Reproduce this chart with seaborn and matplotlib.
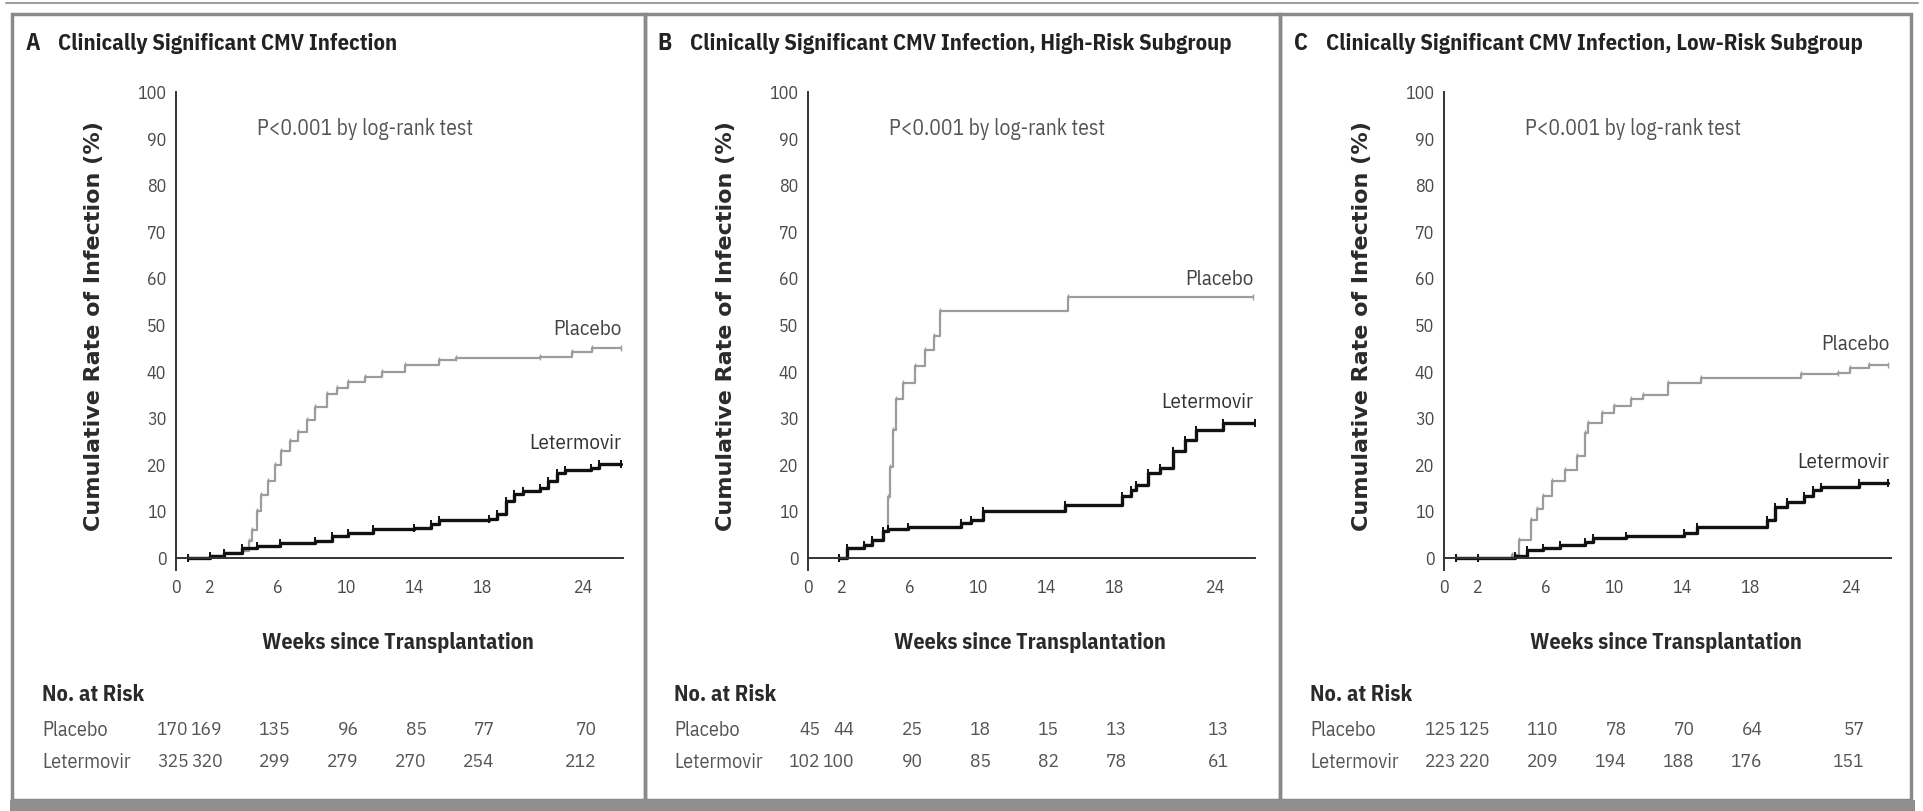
import matplotlib
matplotlib.use("Agg")
import matplotlib.pyplot as plt
from matplotlib.lines import Line2D
from matplotlib.patches import Rectangle
import matplotlib.transforms as mtransforms
import seaborn as sns
import pandas as pd

sns.set_theme(style="white")
plt.rcParams["font.family"] = ["IBM Plex Sans Condensed", "DejaVu Sans"]

# ---- Kaplan-Meier step data (week, cumulative %) ----
a_placebo_weeks = [0.7, 2.0, 2.8, 3.9, 4.3, 4.5, 4.75, 5.0, 5.4, 5.8, 6.2, 6.7, 7.2, 7.7, 8.2, 8.9,
                   9.5, 10.1, 11.1, 12.1, 13.5, 15.5, 16.5, 21.4, 23.3, 24.5, 26.2]
a_placebo_rate = [0, 0.5, 1.0, 1.5, 3.6, 6.0, 10.0, 13.5, 16.5, 20.0, 23.0, 25.0, 27.0, 29.5, 32.3, 35.2,
                  36.5, 37.7, 38.8, 39.9, 41.3, 42.4, 42.9, 43.1, 44.2, 45.0, 45.0]
a_leter_weeks = [0.7, 2.0, 2.8, 3.9, 4.75, 6.1, 8.2, 9.2, 10.1, 11.6, 14.0, 15.0, 15.5, 18.4, 18.9,
                 19.4, 19.9, 20.4, 21.4, 21.9, 22.4, 22.9, 24.4, 24.9, 26.2]
a_leter_rate = [0, 0.5, 1.1, 2.2, 2.6, 3.3, 3.7, 4.7, 5.4, 6.2, 6.4, 7.2, 8.1, 8.3, 9.4,
                12.3, 13.7, 14.4, 15.1, 16.6, 18.3, 18.9, 19.4, 20.2, 20.2]

b_placebo_weeks = [1.8, 2.3, 3.3, 3.75, 4.4, 4.7, 4.85, 5.0, 5.2, 5.6, 6.3, 6.9, 7.4, 7.75, 15.3, 26.2]
b_placebo_rate = [0, 2.1, 2.8, 3.9, 5.7, 13.0, 19.6, 27.5, 34.0, 37.6, 41.1, 44.7, 47.6, 53.0, 56.0, 56.0]
b_leter_weeks = [1.8, 2.3, 3.3, 3.75, 4.4, 4.7, 5.9, 9.0, 9.6, 10.3, 15.1, 18.5, 19.0, 19.3, 20.0,
                 20.7, 21.45, 22.2, 22.8, 24.4, 26.3]
b_leter_rate = [0, 2.1, 2.8, 3.9, 5.7, 6.1, 6.7, 7.5, 8.2, 10.0, 11.4, 13.2, 14.5, 15.7, 18.2,
                19.3, 22.9, 25.4, 27.5, 29.0, 29.0]

c_placebo_weeks = [0.7, 2.0, 4.0, 4.4, 5.1, 5.5, 5.85, 6.35, 7.1, 7.8, 8.3, 8.5, 9.3, 10.0, 11.0, 11.7,
                   13.2, 15.1, 21.0, 23.2, 23.9, 25.0, 26.1]
c_placebo_rate = [0, 0, 0.6, 3.9, 8.2, 10.5, 13.2, 16.4, 18.9, 21.8, 26.8, 29.0, 31.1, 32.5, 34.0, 35.0,
                  37.6, 38.6, 39.4, 39.7, 40.8, 41.5, 41.5]
c_leter_weeks = [0.7, 2.0, 4.2, 4.9, 5.85, 6.8, 8.3, 8.75, 10.7, 14.15, 14.9, 19.0, 19.5, 20.2, 21.2,
                 21.7, 22.2, 24.4, 26.1]
c_leter_rate = [0, 0, 0.5, 1.7, 2.1, 2.8, 3.5, 4.2, 4.6, 5.3, 6.7, 8.2, 11.0, 12.1, 13.2,
                14.6, 15.3, 16.0, 16.0]

# ---- Number at risk ----
risk_weeks = [0, 2, 6, 10, 14, 18, 24]
a_risk_placebo = [170, 169, 135, 96, 85, 77, 70]
a_risk_leter = [325, 320, 299, 279, 270, 254, 212]
b_risk_placebo = [45, 44, 25, 18, 15, 13, 13]
b_risk_leter = [102, 100, 90, 85, 82, 78, 61]
c_risk_placebo = [125, 125, 110, 78, 70, 64, 57]
c_risk_leter = [223, 220, 209, 194, 188, 176, 151]

x_ticks = [0, 2, 6, 10, 14, 18, 24]
y_ticks = list(range(0, 101, 10))

panel_letters = ["A", "B", "C"]
panel_titles = ["Clinically Significant CMV Infection",
                "Clinically Significant CMV Infection, High-Risk Subgroup",
                "Clinically Significant CMV Infection, Low-Risk Subgroup"]
p_text = "P<0.001 by log-rank test"
arm_names = ["Placebo", "Letermovir"]
placebo_label_y = [49.0, 59.8, 45.8]
leter_label_y = [24.6, 33.3, 20.4]

panels = [
    (a_placebo_weeks, a_placebo_rate, a_leter_weeks, a_leter_rate, a_risk_placebo, a_risk_leter),
    (b_placebo_weeks, b_placebo_rate, b_leter_weeks, b_leter_rate, b_risk_placebo, b_risk_leter),
    (c_placebo_weeks, c_placebo_rate, c_leter_weeks, c_leter_rate, c_risk_placebo, c_risk_leter),
]

W, H = 1924, 811
fig = plt.figure(figsize=(W / 100, H / 100), dpi=100)
fig.patch.set_facecolor("white")


def fx(px):
    return px / W


def fy(py):
    return 1 - py / H


axes_left_px = [176, 808, 1444]
ax_w_px = 447
ax_top_px, ax_bot_px = 92, 570

PLACEBO_COLOR = "#9c9c9c"
LETER_COLOR = "#111111"
TEXT_GRAY = "#4a4a4a"

for i, (pw, pr, lw_, lr, rp, rl) in enumerate(panels):
    ax = fig.add_axes([fx(axes_left_px[i]), fy(ax_bot_px),
                       ax_w_px / W, (ax_bot_px - ax_top_px) / H])
    ax.set_facecolor("white")

    df_p = pd.DataFrame({"week": pw, "rate": pr})
    df_l = pd.DataFrame({"week": lw_, "rate": lr})
    sns.lineplot(data=df_p, x="week", y="rate", ax=ax, color=PLACEBO_COLOR,
                 linewidth=1.6, drawstyle="steps-post", marker="|", markersize=5,
                 markeredgewidth=1.0, markeredgecolor=PLACEBO_COLOR, estimator=None)
    sns.lineplot(data=df_l, x="week", y="rate", ax=ax, color=LETER_COLOR,
                 linewidth=2.4, drawstyle="steps-post", marker="|", markersize=6,
                 markeredgewidth=1.4, markeredgecolor=LETER_COLOR, estimator=None)

    ax.set_xlim(0, 26.3)
    ax.set_ylim(-2.6, 100)
    ax.set_xticks(x_ticks)
    ax.set_yticks(y_ticks)
    ax.tick_params(axis="both", direction="out", length=5, width=1.2, color="#333333",
                   labelsize=13, labelcolor=TEXT_GRAY, pad=2)
    ax.tick_params(axis="x", length=11, pad=4)
    for side in ["top", "right"]:
        ax.spines[side].set_visible(False)
    ax.spines["bottom"].set_position(("data", 0))
    for side in ["left", "bottom"]:
        ax.spines[side].set_color("#333333")
        ax.spines[side].set_linewidth(1.4)

    ax.set_ylabel("Cumulative Rate of Infection (%)", fontsize=16, fontweight="bold",
                  color="#2a2a2a", family=["DejaVu Sans"])
    ax.yaxis.set_label_coords(-0.16, 0.51)
    ax.set_xlabel("Weeks since Transplantation", fontsize=15.8, fontweight="bold",
                  color="#2a2a2a")
    ax.xaxis.set_label_coords(0.497, -0.13)

    ax.text(4.75, 92, p_text, fontsize=15.5, color="#555555", ha="left", va="center")
    ax.text(26.2, placebo_label_y[i], arm_names[0], fontsize=15, color="#444444",
            ha="right", va="center")
    ax.text(26.2, leter_label_y[i], arm_names[1], fontsize=15, color="#333333",
            ha="right", va="center")

    # panel heading
    ax.text(-0.336, 1.1025, panel_letters[i], transform=ax.transAxes, fontsize=17,
            fontweight="bold", color="#222222", ha="left", va="center")
    ax.text(-0.264, 1.1025, panel_titles[i], transform=ax.transAxes, fontsize=16.2,
            fontweight="bold", color="#222222", ha="left", va="center")

    # number-at-risk table
    trans = mtransforms.blended_transform_factory(ax.transData, ax.transAxes)
    ax.text(-0.30, -0.2615, "No. at Risk", transform=ax.transAxes, fontsize=16,
            fontweight="bold", color="#2a2a2a", ha="left", va="center")
    row_y = [-0.335, -0.402]
    for name, counts, yy in zip(arm_names, [rp, rl], row_y):
        ax.text(-0.30, yy, name, transform=ax.transAxes, fontsize=14.5,
                color="#555555", ha="left", va="center")
        for wk, n in zip(risk_weeks, counts):
            ax.text(wk + 0.75, yy, str(n), transform=trans, fontsize=14,
                    color="#555555", ha="right", va="center", clip_on=False)

# ---- panel frames ----
FRAME = "#8a8a8a"
fig.add_artist(Line2D([fx(6), fx(1918)], [fy(3), fy(3)], color="#a0a0a0", lw=1.5))
for x0, x1 in [(12, 645), (645, 1280), (1280, 1911)]:
    fig.add_artist(Rectangle((fx(x0), fy(800)), fx(x1 - x0), (800 - 14) / H,
                             fill=False, edgecolor=FRAME, lw=2.5))
fig.add_artist(Rectangle((fx(10), fy(811)), fx(1905), 11 / H, facecolor="#8f8f8f",
                         edgecolor="none"))

fig.savefig("out.png", dpi=100, facecolor="white")
